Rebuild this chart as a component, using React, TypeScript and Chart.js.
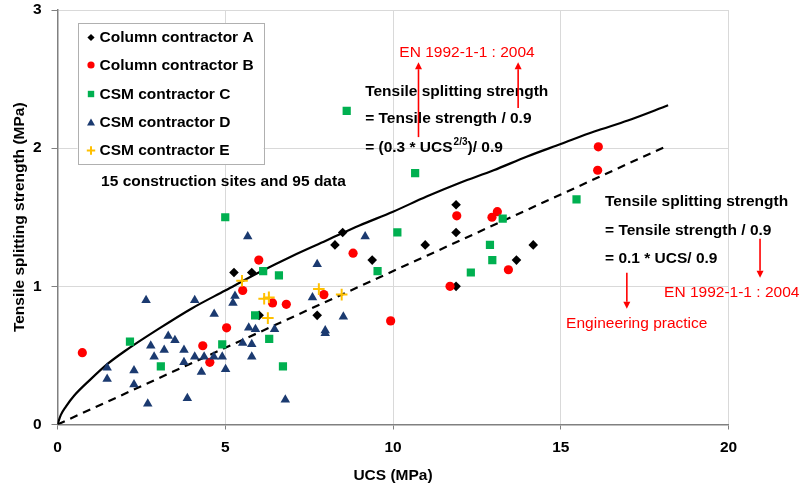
import React, { useEffect, useRef } from 'react';
import { Chart, registerables } from 'chart.js';

Chart.register(...registerables);

// ---- Data ----
const seriesNames = [
  'Column contractor A',
  'Column contractor B',
  'CSM contractor C',
  'CSM contractor D',
  'CSM contractor E',
];

const aUcs = [5.26, 5.79, 6.01, 7.74, 8.27, 8.5, 9.38, 10.96, 11.88, 11.88, 11.88, 13.68, 14.18];
const aTs = [1.1, 1.1, 0.79, 0.79, 1.3, 1.39, 1.19, 1.3, 1.59, 1.39, 1.0, 1.19, 1.3];

const bUcs = [0.74, 4.33, 4.54, 5.04, 5.52, 6.0, 6.41, 6.82, 7.94, 8.81, 9.93, 11.7, 11.9, 12.95, 13.11, 13.44, 16.1, 16.12];
const bTs = [0.52, 0.57, 0.45, 0.7, 0.97, 1.19, 0.88, 0.87, 0.94, 1.24, 0.75, 1.0, 1.51, 1.5, 1.54, 1.12, 1.84, 2.01];

const cUcs = [2.16, 3.08, 4.91, 5.0, 5.89, 6.13, 6.31, 6.6, 6.72, 8.62, 9.54, 10.13, 10.66, 12.32, 12.89, 12.96, 13.27, 15.47];
const cTs = [0.6, 0.42, 0.58, 1.5, 0.79, 1.11, 0.62, 1.08, 0.42, 2.27, 1.11, 1.39, 1.82, 1.1, 1.3, 1.19, 1.49, 1.63];

const dUcs = [
  1.48, 1.48, 2.28, 2.28, 2.64, 2.69, 2.78, 2.88, 3.18, 3.3, 3.5, 3.77, 3.77, 3.87, 4.09, 4.09, 4.29, 4.37, 4.66,
  4.67, 4.91, 5.01, 5.23, 5.29, 5.52, 5.67, 5.7, 5.79, 5.79, 5.9, 6.47, 6.79, 7.6, 7.74, 7.98, 7.98, 8.52, 9.17,
];
const dTs = [
  0.41, 0.33, 0.39, 0.29, 0.9, 0.15, 0.57, 0.49, 0.54, 0.64, 0.61, 0.54, 0.45, 0.19, 0.9, 0.49, 0.38, 0.49, 0.49,
  0.8, 0.49, 0.4, 0.88, 0.93, 0.59, 1.36, 0.7, 0.58, 0.49, 0.69, 0.69, 0.18, 0.92, 1.16, 0.68, 0.66, 0.78, 1.36,
];

const eUcs = [5.5, 6.16, 6.3, 6.27, 7.79, 8.47];
const eTs = [1.04, 0.91, 0.92, 0.77, 0.98, 0.94];

// Solid curve (EN 1992-1-1 : 2004)
const curveUcs = [0, 0.1, 0.25, 0.5, 1, 1.5, 2, 3, 4, 5, 6, 7, 8, 9, 10, 11, 12, 13, 14, 15, 16, 17, 18.2];
const curveTs = [0, 0.07, 0.13, 0.21, 0.33, 0.44, 0.53, 0.69, 0.84, 0.97, 1.1, 1.22, 1.33, 1.44, 1.54, 1.65, 1.75, 1.84, 1.94, 2.03, 2.12, 2.2, 2.31];

// Dashed line (engineering practice)
const dashUcs = [0, 18.2];
const dashTs = [0, 2.02];

const xTicks = [0, 5, 10, 15, 20];
const yTicks = [0, 1, 2, 3];

const colors = ['#000000', '#ff0000', '#00b050', '#1b3a70', '#ffc000'];

const FONT = '"Liberation Sans", Arial, sans-serif';
const FS = 15.5;

const toPts = (xs: number[], ys: number[]) => xs.map((v, i) => ({ x: v, y: ys[i] }));

function drawMarker(ctx: CanvasRenderingContext2D, kind: number, x: number, y: number, s: number) {
  ctx.save();
  ctx.fillStyle = colors[kind];
  ctx.strokeStyle = colors[kind];
  ctx.beginPath();
  if (kind === 0) {
    ctx.moveTo(x, y - s);
    ctx.lineTo(x + s, y);
    ctx.lineTo(x, y + s);
    ctx.lineTo(x - s, y);
    ctx.closePath();
    ctx.fill();
  } else if (kind === 1) {
    ctx.arc(x, y, s, 0, Math.PI * 2);
    ctx.fill();
  } else if (kind === 2) {
    ctx.rect(x - s, y - s, 2 * s, 2 * s);
    ctx.fill();
  } else if (kind === 3) {
    ctx.moveTo(x, y - s);
    ctx.lineTo(x + s, y + s * 0.75);
    ctx.lineTo(x - s, y + s * 0.75);
    ctx.closePath();
    ctx.fill();
  } else {
    ctx.lineWidth = 2;
    ctx.moveTo(x - s, y);
    ctx.lineTo(x + s, y);
    ctx.moveTo(x, y - s);
    ctx.lineTo(x, y + s);
    ctx.stroke();
  }
  ctx.restore();
}

function arrow(ctx: CanvasRenderingContext2D, x1: number, y1: number, x2: number, y2: number) {
  ctx.save();
  ctx.strokeStyle = '#ff0000';
  ctx.fillStyle = '#ff0000';
  ctx.lineWidth = 1.6;
  const ang = Math.atan2(y2 - y1, x2 - x1);
  const hl = 7;
  const hw = 3.5;
  ctx.beginPath();
  ctx.moveTo(x1, y1);
  ctx.lineTo(x2 - hl * Math.cos(ang), y2 - hl * Math.sin(ang));
  ctx.stroke();
  ctx.beginPath();
  ctx.moveTo(x2, y2);
  ctx.lineTo(x2 - hl * Math.cos(ang) + hw * Math.sin(ang), y2 - hl * Math.sin(ang) - hw * Math.cos(ang));
  ctx.lineTo(x2 - hl * Math.cos(ang) - hw * Math.sin(ang), y2 - hl * Math.sin(ang) + hw * Math.cos(ang));
  ctx.closePath();
  ctx.fill();
  ctx.restore();
}

const annotationPlugin = {
  id: 'annotations',
  afterDraw(chart: any) {
    const { ctx, chartArea } = chart;
    const sx = chart.scales.x;
    const sy = chart.scales.y;
    const px = (v: number) => sx.getPixelForValue(v);
    const py = (v: number) => sy.getPixelForValue(v);
    ctx.save();

    // Legend box
    const lx = chartArea.left + 20;
    const ly = chartArea.top + 13;
    const lw = 186;
    const lh = 141;
    ctx.fillStyle = '#ffffff';
    ctx.fillRect(lx, ly, lw, lh);
    ctx.strokeStyle = '#b0b0b0';
    ctx.lineWidth = 1;
    ctx.strokeRect(Math.round(lx) + 0.5, Math.round(ly) + 0.5, lw, lh);
    ctx.textBaseline = 'middle';
    ctx.textAlign = 'left';
    ctx.font = `bold ${FS}px ${FONT}`;
    ctx.fillStyle = '#000';
    const rowY = [14.5, 42, 71, 99.5, 127.5];
    const sizes = [3.6, 3.6, 3.2, 4, 4.2];
    seriesNames.forEach((n, i) => {
      drawMarker(ctx, i, lx + 13.5, ly + rowY[i], sizes[i]);
      ctx.fillStyle = '#000';
      ctx.fillText(n, lx + 22, ly + rowY[i] + 0.5);
    });

    ctx.fillStyle = '#000';
    ctx.font = `bold ${FS}px ${FONT}`;
    ctx.fillText('15 construction sites and 95 data', px(1.3), py(1.755));

    // Upper black block
    ctx.fillText('Tensile splitting strength', px(9.17), py(2.41));
    ctx.fillText('= Tensile strength / 0.9', px(9.17), py(2.216));
    const base = '= (0.3 * UCS';
    const bx = px(9.17);
    const by = py(2.006);
    ctx.fillText(base, bx, by);
    const w1 = ctx.measureText(base).width;
    ctx.font = `bold 10px ${FONT}`;
    ctx.fillText('2/3', bx + w1 + 1, by - 5);
    const w2 = ctx.measureText('2/3').width;
    ctx.font = `bold ${FS}px ${FONT}`;
    ctx.fillText(')/ 0.9', bx + w1 + w2 + 1, by);

    // Right black block
    ctx.fillText('Tensile splitting strength', px(16.32), py(1.613));
    ctx.fillText('= Tensile strength / 0.9', px(16.32), py(1.403));
    ctx.fillText('= 0.1 * UCS/ 0.9', px(16.32), py(1.2));

    // Red labels
    ctx.fillStyle = '#ff0000';
    ctx.font = `${FS}px ${FONT}`;
    ctx.fillText('EN 1992-1-1 : 2004', px(10.19), py(2.694));
    ctx.fillText('EN 1992-1-1 : 2004', px(18.08), py(0.955));
    ctx.fillText('Engineering practice', px(15.16), py(0.728));

    // Red arrows
    arrow(ctx, px(10.76), py(2.08), px(10.76), py(2.622));
    arrow(ctx, px(13.73), py(2.29), px(13.73), py(2.622));
    arrow(ctx, px(20.94), py(1.345), px(20.94), py(1.062));
    arrow(ctx, px(16.97), py(1.098), px(16.97), py(0.837));

    ctx.restore();
  },
};

export default function App() {
  const ref = useRef<HTMLCanvasElement | null>(null);

  useEffect(() => {
    document.body.style.margin = '0';
    const canvas = ref.current;
    if (!canvas) return;
    const tickFont = { family: FONT, size: FS, weight: 'bold' as const };
    const chart = new Chart(canvas, {
      type: 'scatter',
      data: {
        datasets: [
          {
            label: seriesNames[0],
            data: toPts(aUcs, aTs),
            pointStyle: 'rectRot',
            pointRadius: 4.8,
            backgroundColor: colors[0],
            borderColor: colors[0],
            borderWidth: 0,
            order: 5,
          },
          {
            label: seriesNames[1],
            data: toPts(bUcs, bTs),
            pointStyle: 'circle',
            pointRadius: 4.6,
            backgroundColor: colors[1],
            borderColor: colors[1],
            borderWidth: 0,
            order: 4,
          },
          {
            label: seriesNames[2],
            data: toPts(cUcs, cTs),
            pointStyle: 'rect',
            pointRadius: 5.8,
            backgroundColor: colors[2],
            borderColor: colors[2],
            borderWidth: 0,
            order: 3,
          },
          {
            label: seriesNames[3],
            data: toPts(dUcs, dTs),
            pointStyle: 'triangle',
            pointRadius: 5.5,
            backgroundColor: colors[3],
            borderColor: colors[3],
            borderWidth: 0,
            order: 2,
          },
          {
            label: seriesNames[4],
            data: toPts(eUcs, eTs),
            pointStyle: 'cross',
            pointRadius: 5.8,
            backgroundColor: colors[4],
            borderColor: colors[4],
            borderWidth: 2,
            order: 1,
          },
          {
            type: 'line',
            label: 'EN curve',
            data: toPts(curveUcs, curveTs),
            showLine: true,
            pointRadius: 0,
            borderColor: '#000',
            borderWidth: 2.2,
            cubicInterpolationMode: 'monotone',
            fill: false,
            order: 10,
          } as any,
          {
            type: 'line',
            label: 'Practice line',
            data: toPts(dashUcs, dashTs),
            showLine: true,
            pointRadius: 0,
            borderColor: '#000',
            borderWidth: 2.2,
            borderDash: [8, 6],
            fill: false,
            order: 11,
          } as any,
        ],
      },
      options: {
        responsive: false,
        animation: false,
        devicePixelRatio: 1,
        layout: { padding: { left: 0, right: 70.5, top: 10, bottom: 0 } },
        plugins: {
          legend: { display: false },
          tooltip: { enabled: false },
        },
        scales: {
          x: {
            type: 'linear',
            min: 0,
            max: 20,
            afterBuildTicks: (s: any) => {
              s.ticks = xTicks.map((v) => ({ value: v }));
            },
            afterFit: (s: any) => {
              s.height = 60.5;
              s.paddingLeft = 0;
              s.paddingRight = 0;
            },
            ticks: { color: '#000', font: tickFont, padding: 9 },
            grid: { color: '#d9d9d9', lineWidth: 1, tickColor: '#808080', tickLength: 5 },
            border: { color: '#808080', width: 1.5 },
            title: {
              display: true,
              text: 'UCS (MPa)',
              color: '#000',
              font: tickFont,
              padding: { top: 6, bottom: 0 },
            },
          },
          y: {
            type: 'linear',
            min: 0,
            max: 3,
            afterBuildTicks: (s: any) => {
              s.ticks = yTicks.map((v) => ({ value: v }));
            },
            afterFit: (s: any) => {
              s.width = 57.5;
              s.paddingTop = 0;
              s.paddingBottom = 0;
            },
            ticks: { color: '#000', font: tickFont, padding: 10 },
            grid: { color: '#d9d9d9', lineWidth: 1, tickColor: '#808080', tickLength: 6 },
            border: { color: '#808080', width: 1.5 },
            title: {
              display: true,
              text: 'Tensile splitting strength (MPa)',
              color: '#000',
              font: tickFont,
              padding: { top: 10, bottom: 4 },
            },
          },
        },
      },
      plugins: [annotationPlugin],
    } as any);
    return () => chart.destroy();
  }, []);

  return (
    <div style={{ position: 'fixed', left: 0, top: 0, width: 799, height: 485, background: '#fff' }}>
      <canvas ref={ref} width={799} height={485} style={{ width: 799, height: 485, display: 'block' }} />
    </div>
  );
}
